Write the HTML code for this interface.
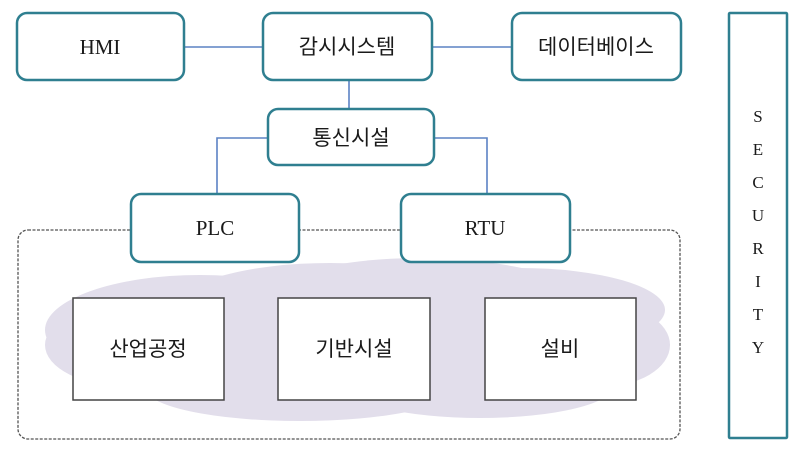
<!DOCTYPE html>
<html><head><meta charset="utf-8"><style>
body{margin:0;background:#fff;}
svg text{font-family:"Liberation Serif","Noto Serif CJK SC",serif;fill:#1a1a1a;}
.k{font-family:"Liberation Sans","Noto Sans CJK KR",sans-serif !important;}
</style></head><body>
<svg width="798" height="450" viewBox="0 0 798 450" xmlns="http://www.w3.org/2000/svg">
<g fill="#e2deeb">
<ellipse cx="200" cy="330" rx="155" ry="55"/>
<ellipse cx="130" cy="345" rx="85" ry="42"/>
<ellipse cx="330" cy="305" rx="150" ry="42"/>
<ellipse cx="420" cy="330" rx="200" ry="72"/>
<ellipse cx="520" cy="310" rx="145" ry="42"/>
<ellipse cx="600" cy="345" rx="70" ry="42"/>
<ellipse cx="300" cy="388" rx="155" ry="33"/>
<ellipse cx="480" cy="385" rx="135" ry="33"/>
</g>
<rect x="18" y="230" width="662" height="209" rx="10" fill="none" stroke="#555" stroke-width="1.3" stroke-dasharray="3,1.5"/>
<g stroke="#5b82c4" stroke-width="1.6" fill="none">
<line x1="184" y1="47" x2="263" y2="47"/>
<line x1="432" y1="47" x2="512" y2="47"/>
<line x1="349" y1="80" x2="349" y2="108"/>
<polyline points="268,138 217,138 217,193"/>
<polyline points="434,138 487,138 487,193"/>
</g>
<g fill="#fff" stroke="#2f7f90" stroke-width="2.5">
<rect x="17" y="13" width="167" height="67" rx="10"/>
<rect x="263" y="13" width="169" height="67" rx="10"/>
<rect x="512" y="13" width="169" height="67" rx="10"/>
<rect x="268" y="109" width="166" height="56" rx="10"/>
<rect x="131" y="194" width="168" height="68" rx="10"/>
<rect x="401" y="194" width="169" height="68" rx="10"/>
<rect x="729" y="13" width="58" height="425" rx="1"/>
</g>
<g fill="#fff" stroke="#444" stroke-width="1.5">
<rect x="73" y="298" width="151" height="102"/>
<rect x="278" y="298" width="152" height="102"/>
<rect x="485" y="298" width="151" height="102"/>
</g>
<g font-size="21" text-anchor="middle">
<text x="100" y="54">HMI</text>
<text x="347" y="54" class="k">감시시스템</text>
<text x="596" y="54" class="k">데이터베이스</text>
<text x="351" y="145" class="k">통신시설</text>
<text x="215" y="235">PLC</text>
<text x="485" y="235">RTU</text>
<text x="148" y="356" class="k">산업공정</text>
<text x="354" y="356" class="k">기반시설</text>
<text x="560" y="356" class="k">설비</text>
</g>
<g font-size="17" text-anchor="middle">
<text x="758" y="122">S</text>
<text x="758" y="155">E</text>
<text x="758" y="188">C</text>
<text x="758" y="221">U</text>
<text x="758" y="254">R</text>
<text x="758" y="287">I</text>
<text x="758" y="320">T</text>
<text x="758" y="353">Y</text>
</g>
</svg>
</body></html>
